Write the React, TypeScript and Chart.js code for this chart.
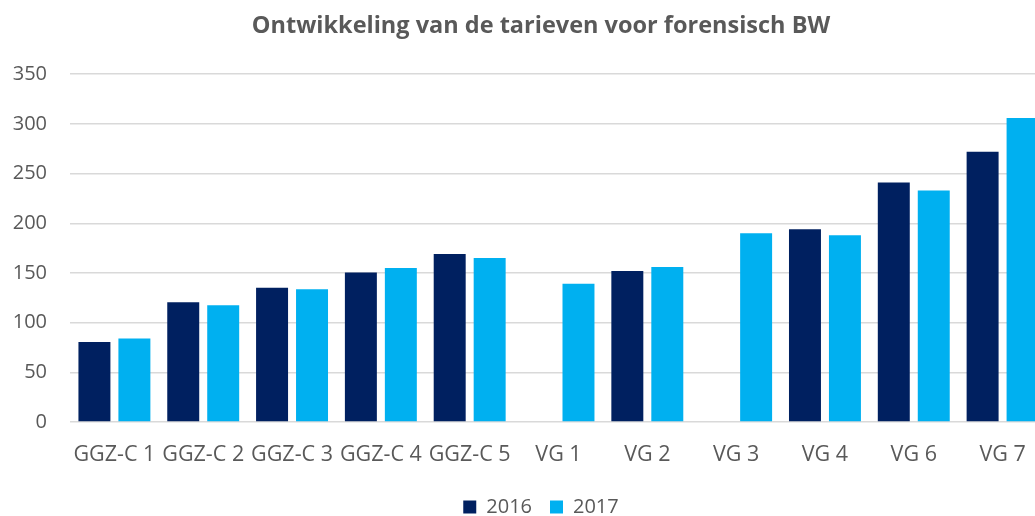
import React, { useEffect, useRef } from "react";
import { Chart, registerables } from "chart.js";

Chart.register(...registerables);

const titleText = "Ontwikkeling van de tarieven voor forensisch BW";
const categories = ["GGZ-C 1", "GGZ-C 2", "GGZ-C 3", "GGZ-C 4", "GGZ-C 5", "VG 1", "VG 2", "VG 3", "VG 4", "VG 6", "VG 7"];
const values2016 = [80.5, 120.5, 135, 150.5, 169, null, 152, null, 194, 241, 272];
const values2017 = [84, 117.5, 133.5, 155, 165, 139, 156, 190, 188, 233, 306];
const seriesNames = ["2016", "2017"];
const seriesColors = ["#002060", "#00B0F0"];
const yMin = 0;
const yMax = 350;
const yStep = 50;

const FONT = "'Open Sans', 'DejaVu Sans', sans-serif";
const TEXT = "#595959";

export default function App() {
  const ref = useRef<HTMLCanvasElement | null>(null);

  useEffect(() => {
    if (!ref.current) return;
    const chart = new Chart(ref.current, {
      type: "bar",
      data: {
        labels: categories,
        datasets: [
          { label: seriesNames[0], data: values2016, backgroundColor: seriesColors[0], borderWidth: 0, yAxisID: "y" },
          { label: seriesNames[1], data: values2017, backgroundColor: seriesColors[1], borderWidth: 0, yAxisID: "y" },
        ],
      },
      options: {
        responsive: false,
        animation: false,
        devicePixelRatio: 1,
        datasets: { bar: { categoryPercentage: 0.9, barPercentage: 0.8 } },
        layout: { padding: 0 },
        plugins: {
          title: {
            display: true,
            text: titleText,
            color: TEXT,
            font: { family: FONT, size: 23.5, weight: "bold" },
            padding: { top: 12, bottom: 34 },
          },
          legend: {
            display: true,
            position: "bottom",
            labels: {
              boxWidth: 13,
              boxHeight: 13,
              padding: 18,
              color: TEXT,
              font: { family: FONT, size: 20 },
            },
          },
          tooltip: { enabled: false },
        },
        scales: {
          x: {
            grid: { display: false },
            border: { display: false },
            ticks: {
              color: TEXT,
              font: { family: FONT, size: 21.5, lineHeight: 2 },
              padding: 3,
              maxRotation: 0,
              autoSkip: false,
            },
          },
          y: {
            min: yMin,
            max: yMax,
            border: { display: false },
            grid: { color: "#d9d9d9", lineWidth: 1.5, drawTicks: false },
            ticks: {
              stepSize: yStep,
              color: TEXT,
              font: { family: FONT, size: 20 },
              padding: 23,
            },
            afterFit: (s: any) => {
              s.width = 70;
            },
          },
          y2: {
            type: "linear",
            position: "right",
            display: true,
            grid: { display: false },
            border: { display: false },
            ticks: { display: false },
            afterFit: (s: any) => {
              s.width = 35;
            },
          },
        },
      } as any,
    });
    return () => chart.destroy();
  }, []);

  return (
    <div style={{ position: "absolute", left: 0, top: 0, width: 1035, height: 516, overflow: "hidden", background: "#fff" }}>
      <canvas ref={ref} width={1082} height={527} style={{ display: "block", width: 1082, height: 527 }} />
    </div>
  );
}
